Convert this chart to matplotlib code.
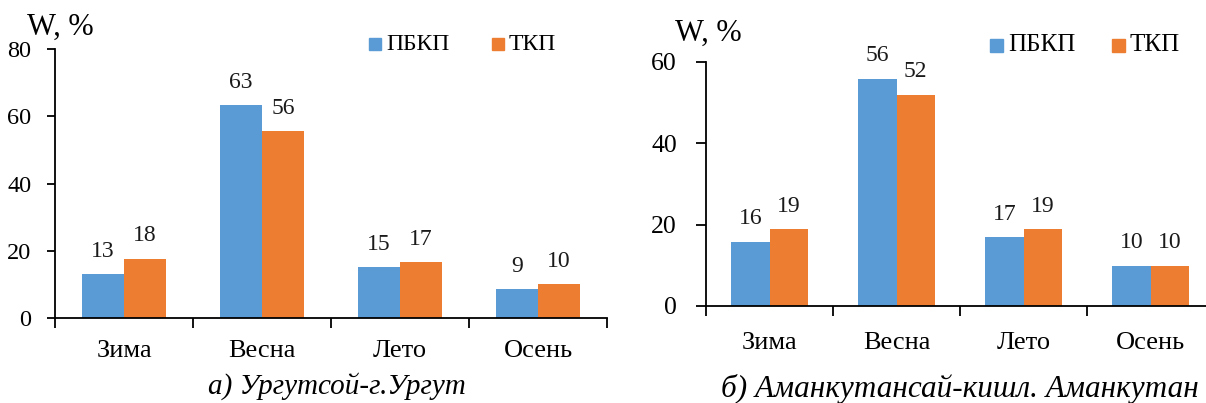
import math
import matplotlib
matplotlib.use("Agg")
import matplotlib.pyplot as plt
from matplotlib.patches import Rectangle

plt.rcParams['font.family'] = ['Liberation Serif', 'DejaVu Serif']

categories = ["Зима", "Весна", "Лето", "Осень"]
series_names = ["ПБКП", "ТКП"]
colors = ["#5B9BD5", "#ED7D31"]

left_pbkp = [13.0, 63.3, 15.1, 8.6]
left_tkp = [17.6, 55.6, 16.6, 10.0]
right_pbkp = [15.8, 55.9, 16.9, 9.9]
right_tkp = [18.9, 51.9, 18.9, 9.9]

left_title = "а) Ургутсой-г.Ургут"
right_title = "б) Аманкутансай-кишл. Аманкутан"
ylabel = "W, %"

W, H = 1206, 403
fig = plt.figure(figsize=(W / 100, H / 100), dpi=100)


def px_axes(x0, x1, ybot, ytop):
    return fig.add_axes([x0 / W, (H - ybot) / H, (x1 - x0) / W, (ybot - ytop) / H])


def rnd(v):
    return str(int(math.floor(v + 0.5)))


def draw_panel(ax, s1, s2, ymax, ystep, tick_fs, cat_fs, lab_fs, cat_pad, ticklen, tickpad, bw):
    n = len(categories)
    xs = list(range(n))
    for k, (vals, c) in enumerate(zip([s1, s2], colors)):
        off = (k - 0.5) * bw
        bars = ax.bar([x + off for x in xs], vals, width=bw, color=c, zorder=2)
        for b, v in zip(bars, vals):
            ax.annotate(rnd(v), (b.get_x() + b.get_width() / 2, v), xytext=(0, 9),
                        textcoords="offset points", ha="center", va="bottom",
                        fontsize=lab_fs, color="#1a1a1a")
    ax.set_xlim(-0.5, n - 0.5)
    ax.set_ylim(0, ymax)
    ax.set_yticks(list(range(0, ymax + 1, ystep)))
    ax.tick_params(axis='y', labelsize=tick_fs, length=ticklen, width=1.3, pad=tickpad,
                   direction='out', colors='black')
    ax.set_xticks(xs)
    ax.set_xticklabels(categories, fontsize=cat_fs)
    ax.tick_params(axis='x', which='major', length=0, pad=cat_pad)
    ax.set_xticks([x - 0.5 for x in range(n + 1)], minor=True)
    ax.tick_params(axis='x', which='minor', length=7, width=1.3, direction='out')
    for s in ['top', 'right']:
        ax.spines[s].set_visible(False)
    for s in ['left', 'bottom']:
        ax.spines[s].set_linewidth(1.3)
    ax.set_facecolor('none')


# left panel
axL = px_axes(55, 607, 318, 49)
draw_panel(axL, left_pbkp, left_tkp, 80, 20, 17.5, 19, 17, 16, 6, 11, 0.304)
# right panel
axR = px_axes(706, 1214, 306, 62)
draw_panel(axR, right_pbkp, right_tkp, 60, 20, 18.5, 19, 17, 19, 7, 14, 0.303)

# y labels
fig.text(27 / W, 1 - 27 / H, ylabel, fontsize=22, ha='left', va='center')
fig.text(675 / W, 1 - 33 / H, ylabel, fontsize=22, ha='left', va='center')

# legends
def legend(xs_sq, y_c, sq, txt_gap, fs):
    for xq, name, c in zip(xs_sq, series_names, colors):
        fig.patches.append(Rectangle((xq / W, 1 - (y_c + sq / 2) / H), sq / W, sq / H,
                                     transform=fig.transFigure, color=c, figure=fig))
        fig.text((xq + sq + txt_gap) / W, 1 - y_c / H, name, fontsize=fs,
                 ha='left', va='center')

legend([369, 492], 44, 12, 5, 17)
legend([990, 1112], 45, 13, 5, 18)

# subtitles
fig.text(337 / W, 1 - 386 / H, left_title, fontsize=21, style='italic', ha='center', va='center')
fig.text(960 / W, 1 - 389 / H, right_title, fontsize=22.5, style='italic', ha='center', va='center')

fig.savefig("out.png", dpi=100)
